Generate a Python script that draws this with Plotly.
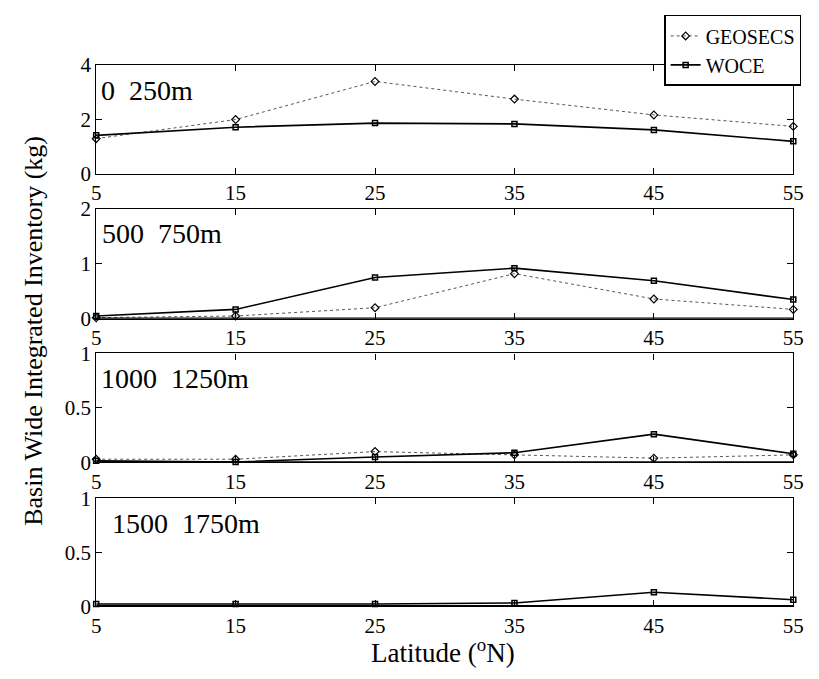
import plotly.graph_objects as go

latitude = [5, 15, 25, 35, 45, 55]
x_ticks = [5, 15, 25, 35, 45, 55]

geosecs_0_250 = [1.30, 2.00, 3.40, 2.75, 2.17, 1.75]
woce_0_250 = [1.42, 1.72, 1.87, 1.84, 1.62, 1.20]

geosecs_500_750 = [0.02, 0.05, 0.20, 0.82, 0.36, 0.17]
woce_500_750 = [0.05, 0.17, 0.75, 0.92, 0.69, 0.35]

geosecs_1000_1250 = [0.03, 0.03, 0.10, 0.07, 0.04, 0.07]
woce_1000_1250 = [0.015, 0.005, 0.05, 0.09, 0.26, 0.08]

woce_1500_1750 = [0.02, 0.02, 0.02, 0.03, 0.13, 0.06]

panel_labels = ["0  250m", "500  750m", "1000  1250m", "1500  1750m"]
y_ranges = [[0, 4], [0, 2], [0, 1], [0, 1]]
y_tickvals = [[0, 2, 4], [0, 1, 2], [0, 0.5, 1], [0, 0.5, 1]]
y_ticktext = [["0", "2", "4"], ["0", "1", "2"], ["0", "0.5", "1"], ["0", "0.5", "1"]]

W, H = 819, 679
def py(pix):
    return 1 - pix / H

x_dom = [93 / W, 804 / W]
panels_pix = [(55, 168), (204, 318), (354, 467), (504, 616)]
label_x = [96, 97, 96, 107]

FONT = "Liberation Serif"
fig = go.Figure()

series = [
    (geosecs_0_250, woce_0_250),
    (geosecs_500_750, woce_500_750),
    (geosecs_1000_1250, woce_1000_1250),
    (None, woce_1500_1750),
]

for i, (g, w) in enumerate(series):
    n = "" if i == 0 else str(i + 1)
    xa, ya = "x" + n, "y" + n
    if g is not None:
        fig.add_trace(go.Scatter(
            x=latitude, y=g, xaxis=xa, yaxis=ya, mode="lines+markers",
            name="GEOSECS", showlegend=(i == 0), cliponaxis=False,
            line=dict(color="#555", width=1, dash="dot"),
            marker=dict(symbol="diamond-open", size=6, color="black", line=dict(width=1.2)),
        ))
    fig.add_trace(go.Scatter(
        x=latitude, y=w, xaxis=xa, yaxis=ya, mode="lines+markers",
        name="WOCE", showlegend=(i == 0), cliponaxis=False,
        line=dict(color="black", width=1.6),
        marker=dict(symbol="square-open", size=5, color="black", line=dict(width=1.5)),
    ))
    top, bot = panels_pix[i]
    axis_common = dict(showline=True, linecolor="black", linewidth=1.2, mirror="ticks",
                       ticks="inside", ticklen=6, tickcolor="black", showgrid=False,
                       zeroline=False, tickfont=dict(family=FONT, size=21, color="black"))
    fig.layout["xaxis" + n] = dict(domain=x_dom, anchor=ya, range=[5, 55],
                                   tickvals=x_ticks, ticktext=[str(t) for t in x_ticks],
                                   ticklabelstandoff=0, **axis_common)
    fig.layout["yaxis" + n] = dict(domain=[py(bot), py(top)], anchor=xa, range=y_ranges[i],
                                   tickvals=y_tickvals[i], ticktext=y_ticktext[i],
                                   ticklabelstandoff=0, **axis_common)
    if i > 0:
        fig.add_shape(type="line", xref=xa, yref=ya, x0=5, x1=55, y0=0, y1=0,
                      line=dict(color="black", width=2.5))
    fig.add_annotation(text=panel_labels[i], xref="paper", yref="paper",
                       x=label_x[i] / W, y=py(top + 26), xanchor="left", yanchor="middle",
                       showarrow=False, font=dict(family=FONT, size=28, color="black"))

fig.add_annotation(text="Latitude (<sup>o</sup>N)", xref="paper", yref="paper",
                   x=447 / W, y=py(662), xanchor="center", yanchor="middle", showarrow=False,
                   font=dict(family=FONT, size=27, color="black"))
fig.add_annotation(text="Basin Wide Integrated Inventory (kg)", xref="paper", yref="paper",
                   x=29 / W, y=py(330), xanchor="center", yanchor="middle", showarrow=False,
                   textangle=-90, font=dict(family=FONT, size=26, color="black"))

fig.update_layout(
    width=W, height=H, margin=dict(l=0, r=0, t=0, b=0),
    paper_bgcolor="white", plot_bgcolor="white",
    legend=dict(x=812 / W, y=py(3), xanchor="right", yanchor="top",
                bordercolor="black", borderwidth=1.5, bgcolor="white",
                font=dict(family=FONT, size=20, color="black"),
                tracegroupgap=0, itemwidth=30),
)

fig.write_html("out.html")
